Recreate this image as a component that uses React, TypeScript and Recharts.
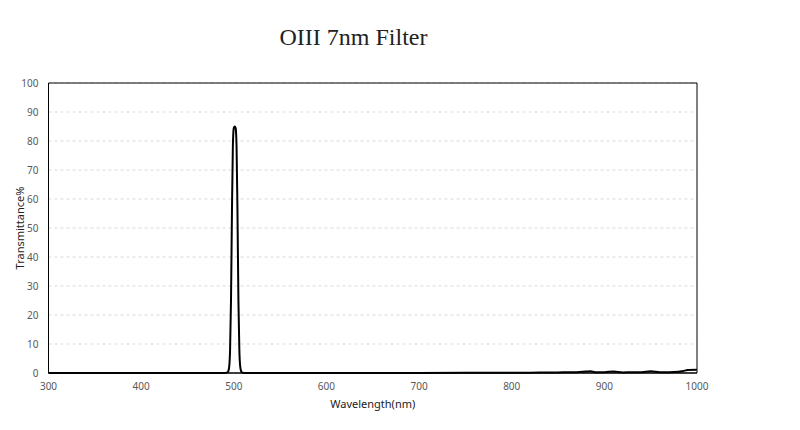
import React from 'react'
import { LineChart, Line, XAxis, YAxis, CartesianGrid, ReferenceArea } from 'recharts'

// wavelength (nm) and transmittance (%)
const wavelength = [
  300, 400, 480, 490, 493, 494, 495, 496, 497, 498, 499, 500, 501, 502, 503, 504, 505, 506, 507, 508, 509, 512,
  600, 700, 800, 820, 840, 850, 860, 870, 880, 885, 890, 900, 910, 920, 930, 940, 950, 960, 970, 980, 985, 990, 1000,
]
const transmittance = [
  0, 0, 0, 0, 0.2, 0.6, 2, 8, 25, 55, 78, 84.5, 85, 84.5, 78, 55, 25, 8, 2, 0.6, 0.2, 0,
  0, 0, 0.1, 0.1, 0.2, 0.2, 0.3, 0.3, 0.5, 0.6, 0.3, 0.3, 0.5, 0.2, 0.3, 0.3, 0.6, 0.3, 0.3, 0.4, 0.7, 1, 1.1,
]
const xTicks = [300, 400, 500, 600, 700, 800, 900, 1000]
const yTicks = [0, 10, 20, 30, 40, 50, 60, 70, 80, 90, 100]

const data = wavelength.map((w, i) => ({ w, t: transmittance[i] }))

const tickStyle = { fontSize: 10, fill: '#595959', fontFamily: '"Noto Sans", sans-serif' }

export default function App() {
  return (
    <div style={{ position: 'absolute', left: 0, top: 0, width: 800, height: 430, background: '#fff' }}>
      <div
        style={{
          position: 'absolute',
          left: 0,
          width: 707,
          top: 24,
          textAlign: 'center',
          fontFamily: '"Liberation Serif", serif',
          fontSize: 24,
          color: '#222',
        }}
      >
        OIII 7nm Filter
      </div>
      <LineChart width={800} height={430} data={data} margin={{ top: 83, right: 103, left: 8, bottom: 27 }}>
        <CartesianGrid vertical={false} stroke="#d9d9d9" strokeDasharray="3 3" />
        <XAxis
          dataKey="w"
          type="number"
          domain={[300, 1000]}
          ticks={xTicks}
          tick={tickStyle}
          tickLine={false}
          axisLine={{ stroke: '#000' }}
          height={30}
          tickMargin={4}
          label={{ value: 'Wavelength(nm)', position: 'insideBottom', offset: -5, style: { fontSize: 11, fill: '#222', fontFamily: '"Noto Sans", sans-serif' } }}
        />
        <YAxis
          type="number"
          domain={[0, 100]}
          ticks={yTicks}
          tick={tickStyle}
          tickLine={false}
          axisLine={{ stroke: '#000' }}
          width={40.5}
          tickMargin={4}
          label={{
            value: 'Transmittance%',
            angle: -90,
            position: 'insideLeft',
            offset: 12,
            style: { textAnchor: 'middle', fontSize: 11, fill: '#222', fontFamily: '"Noto Sans", sans-serif' },
          }}
        />
        <ReferenceArea x1={300} x2={1000} y1={0} y2={100} fill="none" stroke="#000" strokeWidth={1} fillOpacity={0} />
        <Line type="monotone" dataKey="t" stroke="#000" strokeWidth={2} dot={false} isAnimationActive={false} />
      </LineChart>
    </div>
  )
}
